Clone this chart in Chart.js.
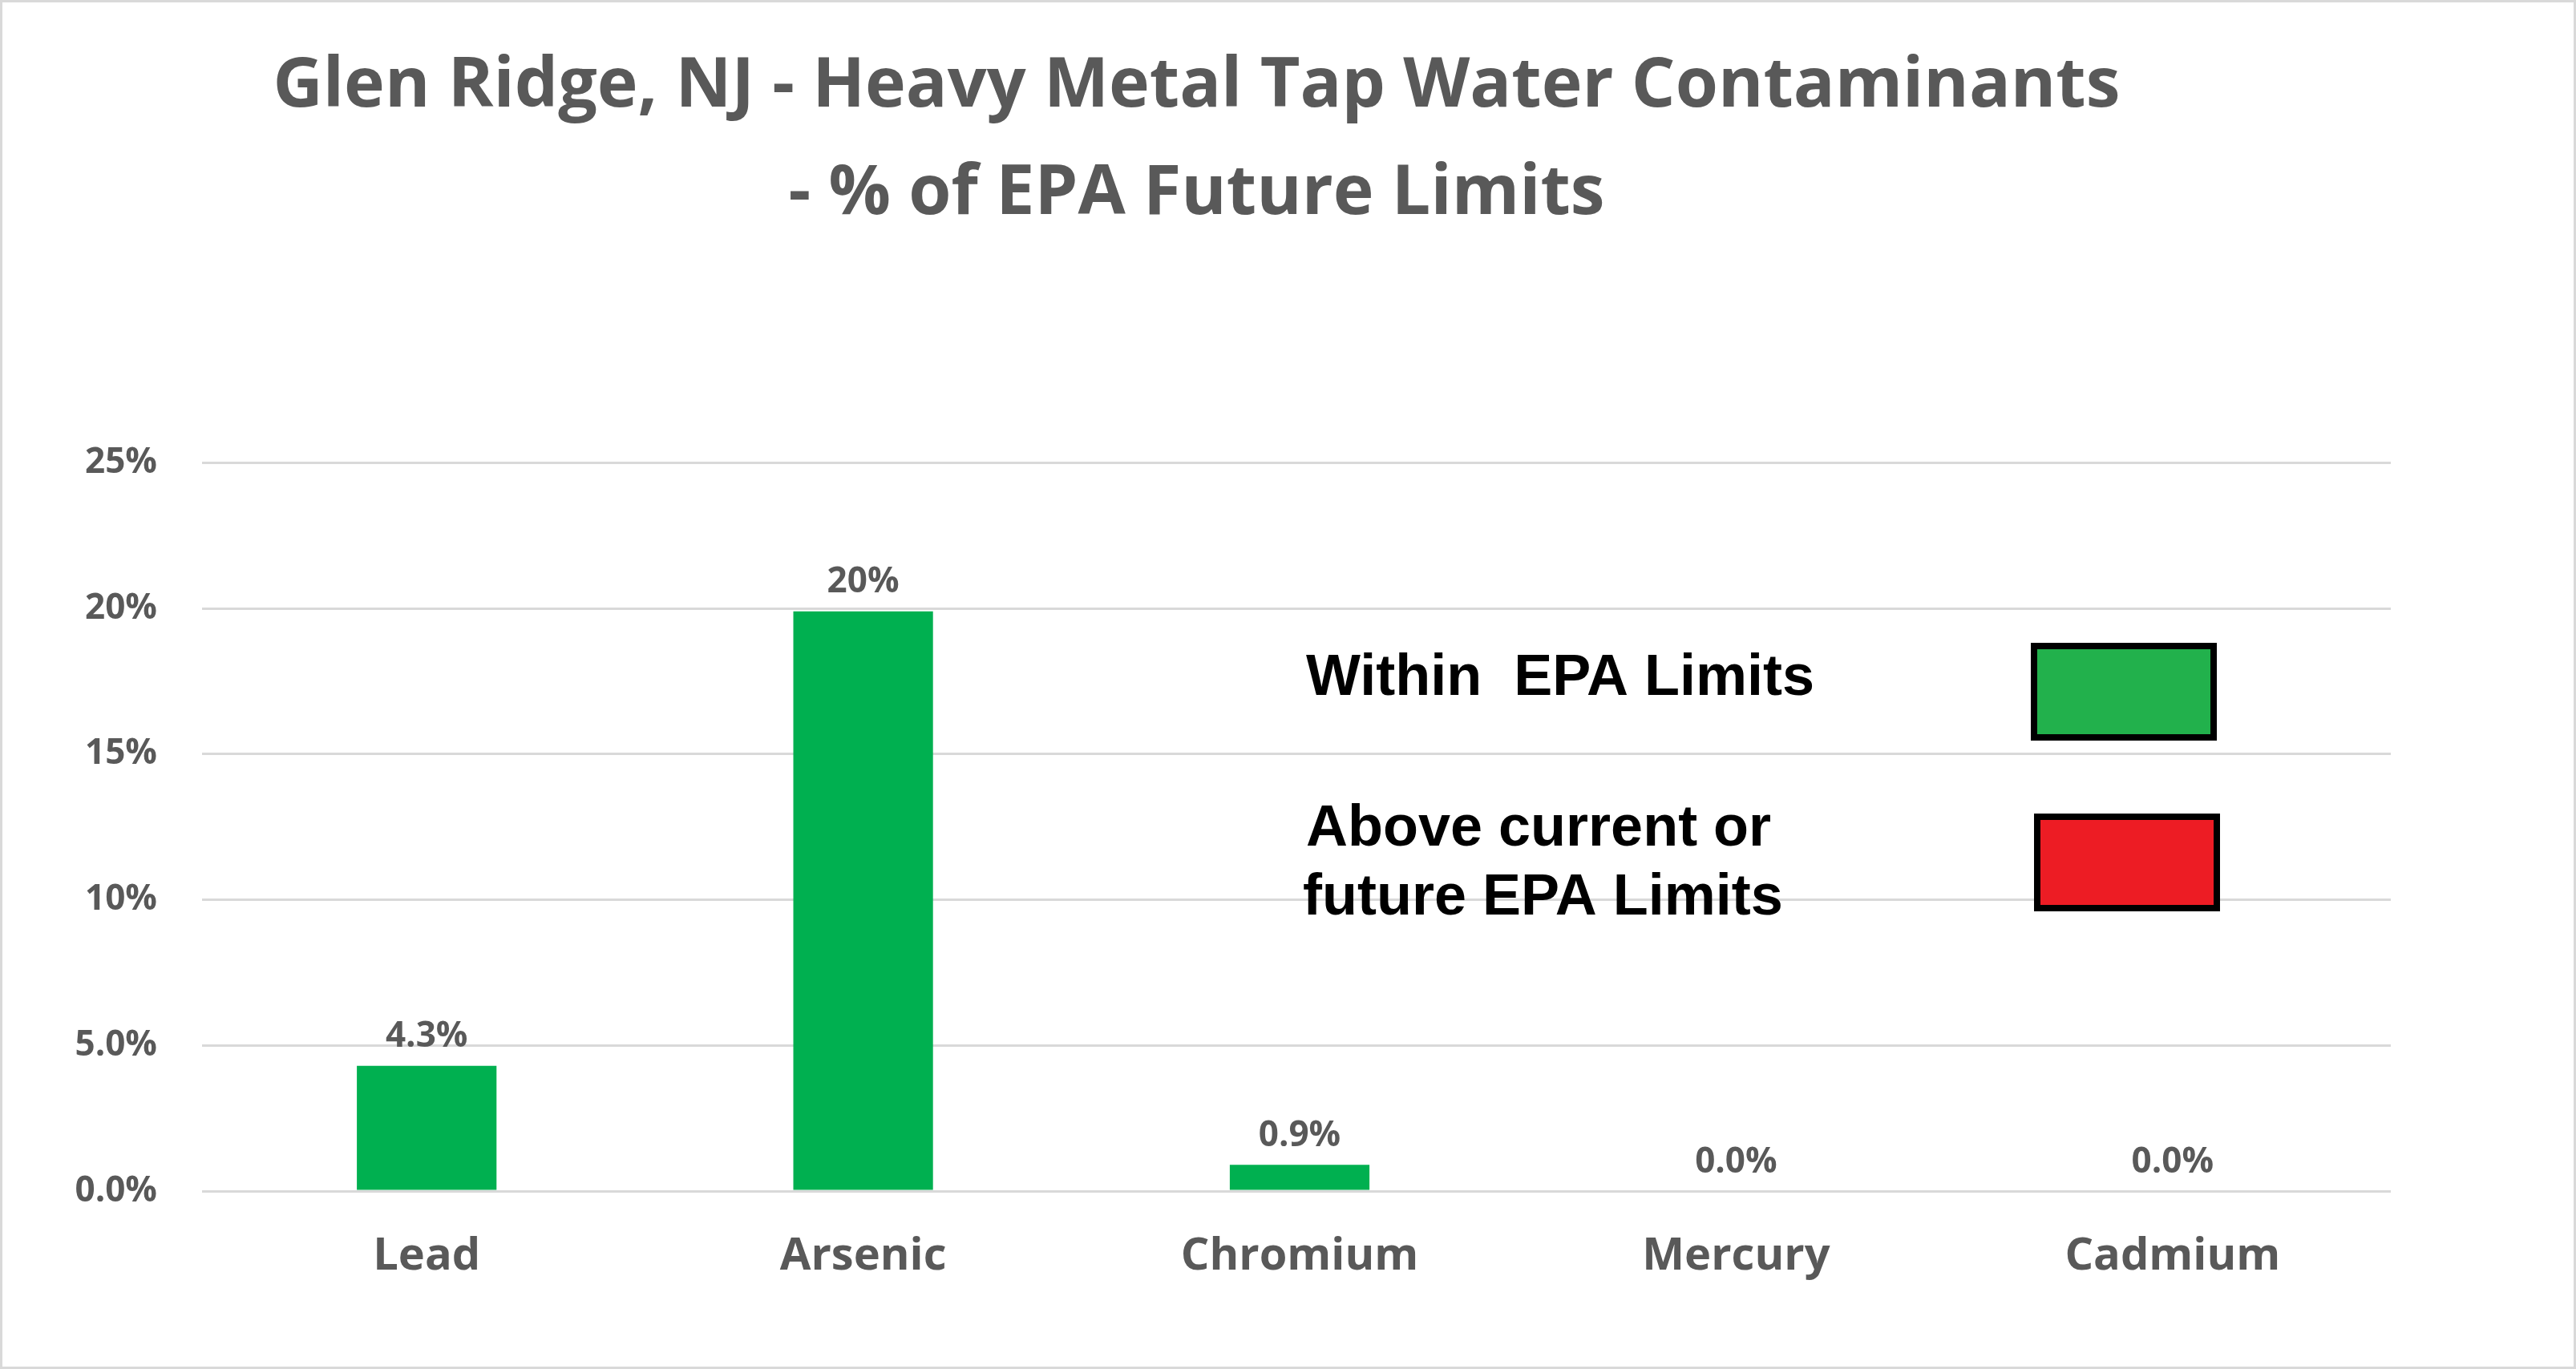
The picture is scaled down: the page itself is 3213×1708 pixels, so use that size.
<!DOCTYPE html>
<html>
<head>
<meta charset="utf-8">
<script src="https://cdn.jsdelivr.net/npm/chart.js@4"></script>
<style>
  html, body { margin: 0; padding: 0; background: #fff; }
  #wrap { width: 3213px; height: 1708px; box-sizing: border-box; border: 3px solid #d9d9d9; }
</style>
</head>
<body>
<div id="wrap"><canvas id="bar-chart" width="3207" height="1702"></canvas></div>
<script>
var metals = ["Lead", "Arsenic", "Chromium", "Mercury", "Cadmium"];
var pctOfLimit = [0.043, 0.199, 0.009, 0, 0];
var valueLabels = ["4.3%", "20%", "0.9%", "0.0%", "0.0%"];
var yTickLabels = ["0.0%", "5.0%", "10%", "15%", "20%", "25%"];

var grey = "#595959";

// bar value labels + the legend box drawn in the open area on the right
var extras = {
  id: "extras",
  afterDatasetsDraw: function(chart) {
    var ctx = chart.ctx;
    var meta = chart.getDatasetMeta(0);
    ctx.save();
    ctx.fillStyle = grey;
    ctx.font = "bold 44px 'Open Sans'";
    ctx.textAlign = "center";
    ctx.textBaseline = "bottom";
    meta.data.forEach(function(bar, i) {
      ctx.fillText(valueLabels[i], bar.x, bar.y - 14);
    });

    ctx.fillStyle = "#000";
    ctx.font = "bold 72px 'Liberation Sans'";
    ctx.textAlign = "left";
    ctx.textBaseline = "middle";
    ctx.fillText("Within  EPA Limits", 1626, 844);
    ctx.fillText("Above current or", 1626, 1032);
    ctx.fillText("future EPA Limits", 1622, 1118);

    ctx.lineWidth = 8;
    ctx.strokeStyle = "#000";
    ctx.fillStyle = "#22b14c";
    ctx.fillRect(2534, 803, 224, 114);
    ctx.strokeRect(2534, 803, 224, 114);
    ctx.fillStyle = "#ed1c24";
    ctx.fillRect(2538, 1016, 224, 114);
    ctx.strokeRect(2538, 1016, 224, 114);
    ctx.restore();
  }
};

new Chart(document.getElementById("bar-chart"), {
  type: "bar",
  data: {
    labels: metals,
    datasets: [{
      data: pctOfLimit,
      backgroundColor: "#00b050",
      categoryPercentage: 1,
      barPercentage: 0.32
    }]
  },
  options: {
    responsive: false,
    animation: false,
    devicePixelRatio: 1,
    layout: { padding: { left: 0, right: 228, top: 0, bottom: 0 } },
    plugins: {
      legend: { display: false },
      tooltip: { enabled: false },
      title: {
        display: true,
        text: ["Glen Ridge, NJ - Heavy Metal Tap Water Contaminants", "- % of EPA Future Limits"],
        color: grey,
        font: { family: "'Open Sans'", size: 86, weight: "bold", lineHeight: 1.56 },
        padding: { top: 38, bottom: 268 }
      }
    },
    scales: {
      x: {
        grid: { display: false },
        border: { display: false },
        ticks: { color: grey, font: { family: "'Open Sans'", size: 56, weight: "bold" }, padding: 40 },
        afterFit: function(s) { s.height = 219; }
      },
      y: {
        min: 0,
        max: 0.25,
        ticks: {
          stepSize: 0.05,
          color: grey,
          padding: 56,
          font: { family: "'Open Sans'", size: 44, weight: "bold" },
          callback: function(v, i) { return yTickLabels[i]; }
        },
        grid: { color: "#d9d9d9", lineWidth: 3 },
        border: { display: false },
        afterFit: function(s) { s.width = 257; }
      }
    }
  },
  plugins: [extras]
});
</script>
</body>
</html>
